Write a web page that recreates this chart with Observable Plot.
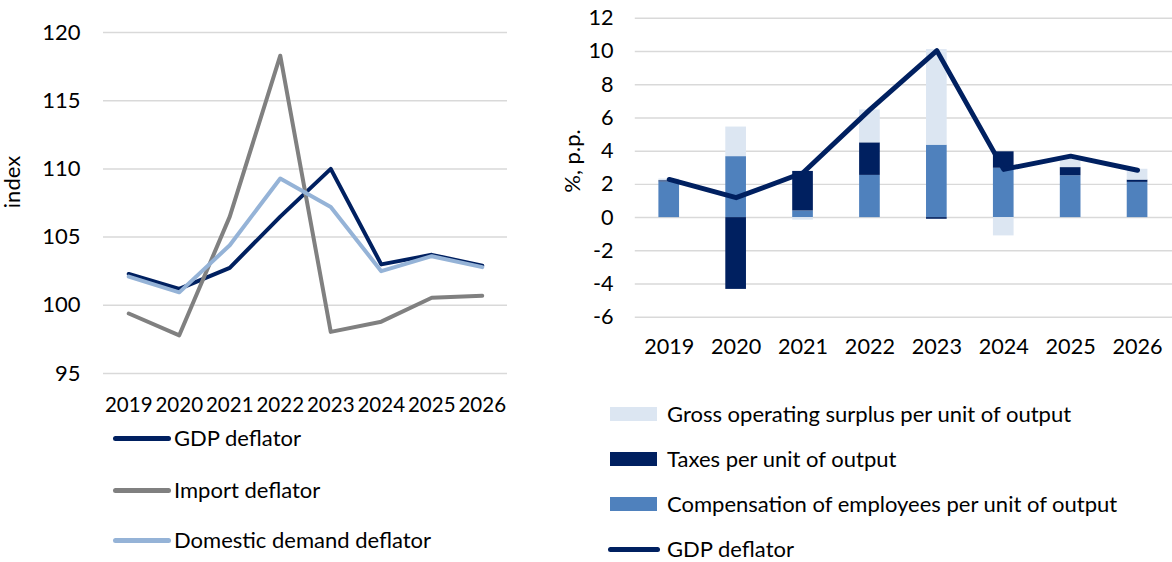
<!DOCTYPE html>
<html>
<head>
<meta charset="utf-8">
<script src="https://cdn.jsdelivr.net/npm/d3@7"></script>
<script src="https://cdn.jsdelivr.net/npm/@observablehq/plot@0.6"></script>
<style>
html, body { margin:0; padding:0; background:#fff; overflow:hidden; width:1172px; height:562px; }
body { position:relative; font-family: Lato, "Open Sans", sans-serif; color:#000; }
#left { position:absolute; left:0; top:0; }
#right { position:absolute; left:560px; top:0; }
#left g[aria-label^="x-axis"] text { font-size: 20.5px; }
.ylab { position:absolute; font-size:22px; line-height:22px; white-space:nowrap; transform-origin:center center; }
.leg { position:absolute; font-size:22px; line-height:26px; white-space:nowrap; display:flex; align-items:center; }
.leg .ln { display:inline-block; height:5px; border-radius:3px; }
.leg .sw { display:inline-block; height:14px; }
</style>
</head>
<body>
<div id="left"></div>
<div id="right"></div>
<script>
// ---- data ----
const years = [2019, 2020, 2021, 2022, 2023, 2024, 2025, 2026];

// left panel: deflator indices
const gdpIndex      = [102.3, 101.2, 102.75, 106.5, 110.0, 103.0, 103.7, 102.9];
const importIndex   = [99.4, 97.8, 106.5, 118.3, 98.05, 98.8, 100.55, 100.7];
const domesticIndex = [102.1, 100.95, 104.4, 109.3, 107.2, 102.5, 103.6, 102.8];
const leftSeries = ["GDP deflator", "Import deflator", "Domestic demand deflator"];
const leftColors = ["#002060", "#808080", "#95B3D7"];
const leftTicks = [95, 100, 105, 110, 115, 120];

// right panel: contributions (p.p.) and GDP deflator growth (%)
const compensation = [2.15, 3.67, 0.4, 2.54, 4.36, 2.97, 2.52, 2.12];
const taxes        = [0.07, -4.32, 2.38, 1.96, -0.1, 0.99, 0.49, 0.14];
const surplus      = [0.1, 1.78, -0.15, 1.98, 5.75, -1.1, 0.6, 0.65];
const gdpGrowth    = [2.3, 1.2, 2.7, 6.5, 10.05, 2.9, 3.7, 2.85];
const barSeries = ["Compensation of employees per unit of output", "Taxes per unit of output", "Gross operating surplus per unit of output"];
const barColors = ["#4F81BD", "#002060", "#DCE6F2"];
const rightTicks = [-6, -4, -2, 0, 2, 4, 6, 8, 10, 12];
const legendRight = ["Gross operating surplus per unit of output", "Taxes per unit of output", "Compensation of employees per unit of output"];

const fontStyle = {fontFamily: "Lato, 'Open Sans', sans-serif", fontSize: "22px", color: "#000", background: "transparent", overflow: "visible"};

// ---- left chart ----
const leftValues = [gdpIndex, importIndex, domesticIndex];
const leftData = leftSeries.flatMap((s, k) => years.map((y, i) => ({series: s, year: y, value: leftValues[k][i]})));

const leftPlot = Plot.plot({
  width: 520, height: 418,
  marginLeft: 103, marginRight: 13, marginTop: 32, marginBottom: 45,
  style: fontStyle,
  x: {domain: [2018.5, 2026.5], ticks: years, tickFormat: d => String(d), tickSize: 0, tickPadding: 24, label: null},
  y: {domain: [95, 120], ticks: leftTicks, tickFormat: d => String(d), tickSize: 0, tickPadding: 23, label: null},
  color: {domain: leftSeries, range: leftColors},
  marks: [
    Plot.ruleY(leftTicks, {stroke: "#d9d9d9", strokeWidth: 1.5}),
    Plot.line(leftData, {x: "year", y: "value", z: "series", stroke: "series", strokeWidth: 4, strokeLinejoin: "round"})
  ]
});
document.getElementById("left").appendChild(leftPlot);

// ---- right chart ----
const barValues = [compensation, taxes, surplus];
const barData = barSeries.flatMap((s, k) => years.map((y, i) => ({series: s, year: y, value: barValues[k][i]})));
const lineData = years.map((y, i) => ({year: y, value: gdpGrowth[i]}));

const rightPlot = Plot.plot({
  width: 622, height: 367,
  marginLeft: 76, marginRight: 0, marginTop: 18, marginBottom: 45,
  style: fontStyle,
  x: {type: "band", domain: years, paddingInner: 0.685, paddingOuter: 0.34, tickSize: 0, tickPadding: 22, label: null, tickFormat: d => String(d)},
  y: {domain: [-6, 12], ticks: rightTicks, tickFormat: d => String(d), tickSize: 0, tickPadding: 22, label: null},
  color: {domain: barSeries, range: barColors},
  marks: [
    Plot.ruleY(rightTicks, {stroke: "#d9d9d9", strokeWidth: 1.5}),
    Plot.barY(barData, {x: "year", y: "value", fill: "series", order: barSeries}),
    Plot.line(lineData, {x: "year", y: "value", stroke: "#002060", strokeWidth: 5, strokeLinejoin: "round", strokeLinecap: "round"})
  ]
});
document.getElementById("right").appendChild(rightPlot);

// ---- axis titles ----
function addYLabel(text, cx, cy) {
  const d = document.createElement("div");
  d.className = "ylab";
  d.textContent = text;
  document.body.appendChild(d);
  const w = d.offsetWidth, h = d.offsetHeight;
  d.style.left = (cx - w / 2) + "px";
  d.style.top = (cy - h / 2) + "px";
  d.style.transform = "rotate(-90deg)";
}
addYLabel("index", 12, 182);
addYLabel("%, p.p.", 571, 161);

// ---- legends ----
function addLegend(x, cy, swatch, text) {
  const d = document.createElement("div");
  d.className = "leg";
  d.appendChild(swatch);
  const t = document.createElement("span");
  t.textContent = text;
  d.appendChild(t);
  document.body.appendChild(d);
  d.style.left = x + "px";
  d.style.top = (cy - d.offsetHeight / 2) + "px";
}
function lineSwatch(color, w, gap) {
  const s = document.createElement("span");
  s.className = "ln";
  s.style.width = w + "px";
  s.style.background = color;
  s.style.marginRight = gap + "px";
  return s;
}
function rectSwatch(color, w, gap) {
  const s = document.createElement("span");
  s.className = "sw";
  s.style.width = w + "px";
  s.style.background = color;
  s.style.marginRight = gap + "px";
  return s;
}
const leftLegendY = [438, 490, 540];
leftSeries.forEach((s, i) => addLegend(113, leftLegendY[i], lineSwatch(leftColors[i], 58, 3), s));

const rightLegendY = [414, 459, 504];
legendRight.forEach((s, i) => addLegend(610, rightLegendY[i], rectSwatch(barColors[barSeries.indexOf(s)], 47, 10), s));
addLegend(608, 549, lineSwatch("#002060", 52, 7), "GDP deflator");
</script>
</body>
</html>
